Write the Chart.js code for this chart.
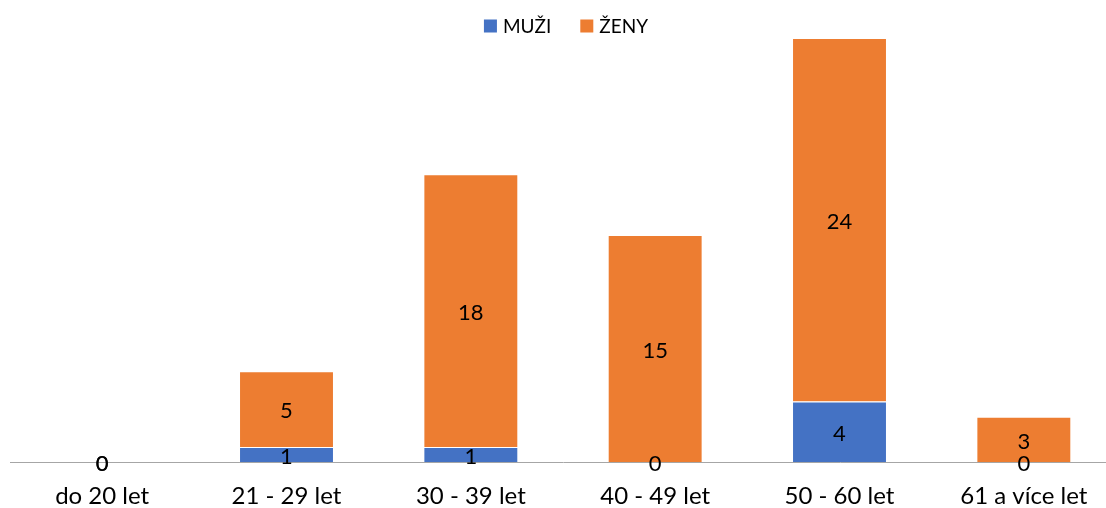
<!DOCTYPE html>
<html>
<head>
<meta charset="utf-8">
<script src="https://cdn.jsdelivr.net/npm/chart.js@4"></script>
<style>
    body { margin: 0; overflow: hidden; background: #fff; }
    #wrap { width: 1120px; height: 508px; }
</style>
</head>
<body>
<div id="wrap"><canvas id="myChart"></canvas></div>
<script>
var kategorie = ['do 20 let', '21 - 29 let', '30 - 39 let', '40 - 49 let', '50 - 60 let', '61 a více let'];
var muzi = [0, 1, 1, 0, 4, 0];
var zeny = [0, 5, 18, 15, 24, 3];

// popisky hodnot uprostred segmentu
const popisky = {
    id: 'popisky',
    afterDatasetsDraw(chart) {
        const ctx = chart.ctx;
        ctx.save();
        ctx.font = '22px Lato';
        ctx.fillStyle = '#000';
        ctx.textAlign = 'center';
        ctx.textBaseline = 'middle';
        chart.data.datasets.forEach(function(ds, i) {
            chart.getDatasetMeta(i).data.forEach(function(bar, j) {
                var p = bar.getCenterPoint();
                ctx.fillText(ds.data[j], p.x, p.y + 2);
            });
        });
        ctx.restore();
    }
};

// legenda nahore, jako v Excelu (ctverecek tesne u textu)
const legenda = {
    id: 'legenda',
    afterDraw(chart) {
        const ctx = chart.ctx;
        ctx.save();
        ctx.font = '19px Lato';
        ctx.textBaseline = 'middle';
        ctx.textAlign = 'left';
        var box = 13, gap = 6, mezera = 29, y = 26;
        var sirky = chart.data.datasets.map(function(ds) { return ctx.measureText(ds.label).width; });
        var celkem = 0;
        sirky.forEach(function(w, i) { celkem += box + gap + w + (i > 0 ? mezera : 0); });
        var x = 566 - celkem / 2;
        chart.data.datasets.forEach(function(ds, i) {
            ctx.fillStyle = ds.backgroundColor;
            ctx.fillRect(x, y - box / 2, box, box);
            ctx.fillStyle = '#000';
            ctx.fillText(ds.label, x + box + gap, y + 1);
            x += box + gap + sirky[i] + mezera;
        });
        ctx.restore();
    }
};

const ctx = document.getElementById('myChart');

new Chart(ctx, {
    type: 'bar',
    data: {
        labels: kategorie,
        datasets: [{
            label: 'MUŽI',
            data: muzi,
            backgroundColor: '#4472C4',
            borderColor: '#ffffff',
            borderWidth: 1
        }, {
            label: 'ŽENY',
            data: zeny,
            backgroundColor: '#ED7D31',
            borderColor: '#ffffff',
            borderWidth: 1
        }]
    },
    options: {
        responsive: true,
        maintainAspectRatio: false,
        animation: false,
        layout: {
            padding: { left: 10, right: 4, top: 38, bottom: -23 }
        },
        datasets: {
            bar: { categoryPercentage: 1, barPercentage: 0.515 }
        },
        plugins: {
            legend: { display: false },
            tooltip: { enabled: false }
        },
        scales: {
            x: {
                stacked: true,
                grid: { display: false, drawTicks: false },
                border: { display: true, color: '#a6a6a6', width: 1 },
                ticks: {
                    color: '#000',
                    font: { family: 'Lato', size: 24 },
                    padding: 20,
                    maxRotation: 0
                }
            },
            y: {
                stacked: true,
                display: false,
                min: 0,
                max: 28
            }
        }
    },
    plugins: [popisky, legenda]
});
</script>
</body>
</html>
